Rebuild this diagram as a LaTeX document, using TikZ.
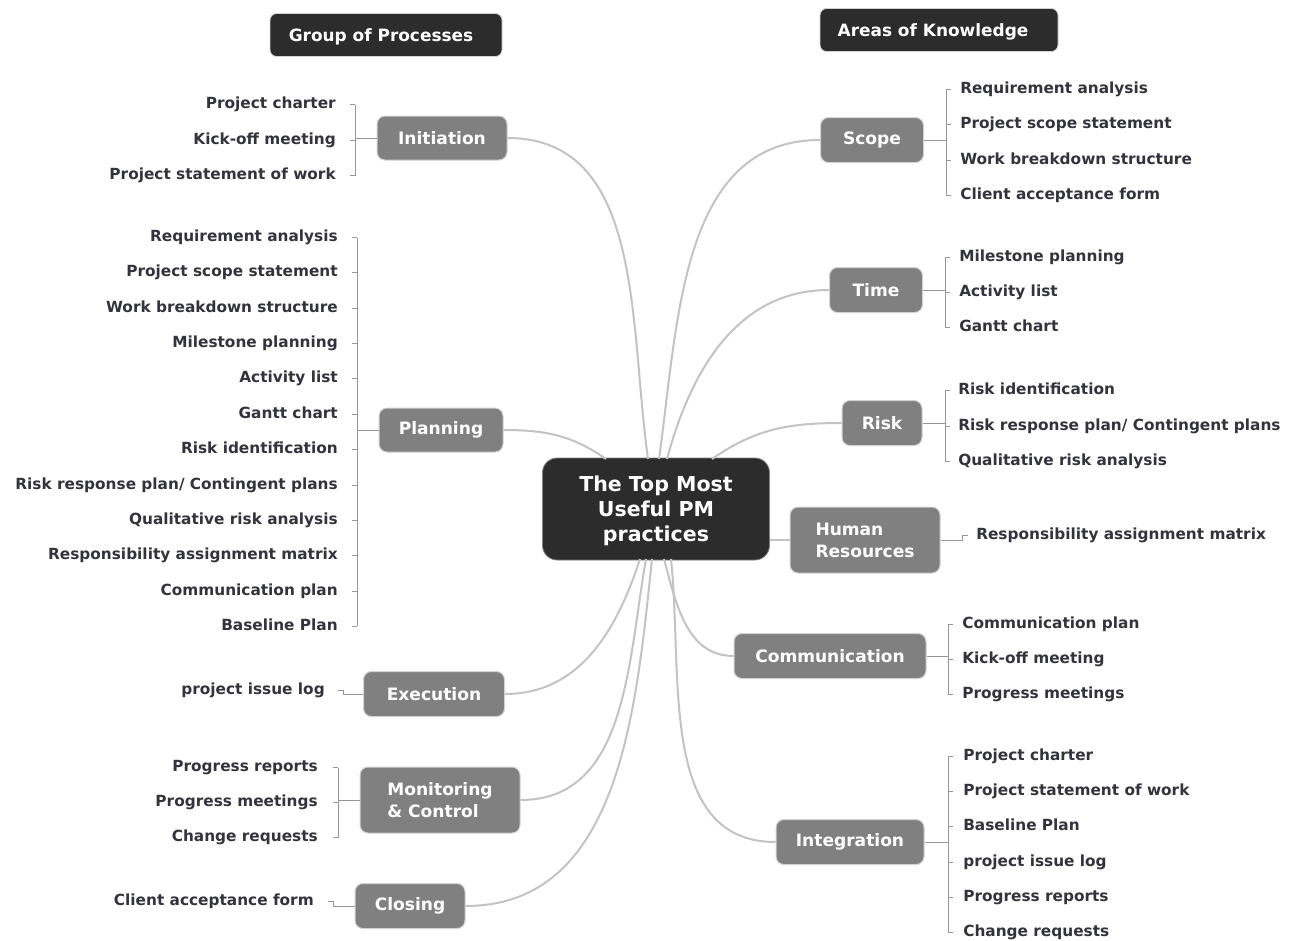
\documentclass[tikz,border=0pt]{standalone}
\usepackage{fontspec}
\setmainfont{DejaVu Sans}
\usetikzlibrary{calc}
\definecolor{txt}{RGB}{51,51,62}
\definecolor{dark}{RGB}{44,44,44}
\definecolor{gbox}{RGB}{128,128,128}
\definecolor{gedge}{RGB}{210,210,210}
\definecolor{gline}{RGB}{195,195,195}
\definecolor{bline}{RGB}{150,150,150}
\begin{document}
\begin{tikzpicture}[x=0.75pt,y=-0.75pt,
  leafL/.style={anchor=east, inner sep=0pt, text height=8.5pt, text depth=2.5pt,
    font=\fontsize{11.5}{13}\selectfont\bfseries, text=txt},
  leafR/.style={leafL, anchor=west},
  sz/.style 2 args={minimum width={#1*0.75pt}, minimum height={#2*0.75pt}},
  branch/.style={draw=gedge, line width=0.75pt, fill=gbox, rounded corners=6pt,
    text=white, font=\fontsize{12.8}{16.5}\selectfont\bfseries, inner sep=0pt},
  hubbox/.style={draw=gray, line width=0.6pt, fill=dark, rounded corners=11pt, inner sep=0pt},
  hubtext/.style={text=white, font=\fontsize{15.4}{18.75}\selectfont\bfseries, inner sep=0pt, align=center},
  titlebox/.style={draw=gedge, line width=0.6pt, fill=dark, rounded corners=5pt},
  titletext/.style={text=white, font=\fontsize{12.7}{15}\selectfont\bfseries, inner sep=0pt},
  curve/.style={draw=gline, line width=1.5pt},
  brk/.style={draw=bline, line width=0.75pt}
]
\fill[white] (0,0) rectangle (1293,940);
\useasboundingbox (0,0) rectangle (1293,940);

% titles
\node[titlebox, sz={232}{43}] (tg) at (386,35) {};
\node[titletext] (tgt) at (381,37) {Group of Processes};
\node[titlebox, sz={238}{43}] (ta) at (939,30) {};
\node[titletext] (tat) at (933,32) {Areas of Knowledge};

% hub
\node[hubbox, sz={227}{102}] (hub) at (656,509) {};
\node[hubtext] (hubt) at (656,511) {The Top Most\\Useful PM\\practices};

% branches left
\node[branch, sz={130}{44}] (ini) at (442,138) {Initiation};
\node[branch, sz={124}{44}] (pla) at (441,430) {Planning};
\node[branch, sz={141}{45}] (exe) at (434,694) {Execution};
\node[branch, sz={160}{66}, align=left] (mon) at (440,800) {Monitoring\\\& Control};
\node[branch, sz={110}{45}] (clo) at (410,906) {Closing};
% branches right
\node[branch, sz={103}{45}] (sco) at (872,140) {Scope};
\node[branch, sz={93}{45}] (tim) at (876,290) {Time};
\node[branch, sz={80}{45}] (ris) at (882,423) {Risk};
\node[branch, sz={150}{66}, align=left] (hr) at (865,540) {Human\\Resources};
\node[branch, sz={192}{45}] (com) at (830,656) {Communication};
\node[branch, sz={148}{45}] (int) at (850,842) {Integration};

% hub attachment points
\coordinate (hIni) at (648,459);
\coordinate (hPla) at (606,459);
\coordinate (hSco) at (659,459);
\coordinate (hTim) at (667,459);
\coordinate (hRis) at (712,459);
\coordinate (hExe) at (640,559);
\coordinate (hMon) at (646,559);
\coordinate (hClo) at (652,559);
\coordinate (hCom) at (664,559);
\coordinate (hInt) at (671,559);

% main connectors
\draw[curve] (ini.east) to[out=0,in=98] (hIni);
\draw[curve] (pla.east) to[out=0,in=145] (hPla);
\draw[curve] (sco.west) to[out=180,in=82] (hSco);
\draw[curve] (tim.west) to[out=180,in=75] (hTim);
\draw[curve] (ris.west) to[out=180,in=35] (hRis);
\draw[curve] (exe.east) to[out=0,in=-108] (hExe);
\draw[curve] (mon.east) to[out=0,in=-100] (hMon);
\draw[curve] (clo.east) to[out=0,in=-96] (hClo);
\draw[curve] (com.west) to[out=180,in=-75] (hCom);
\draw[curve] (int.west) to[out=180,in=-84] (hInt);
\draw[curve] (hr.west) -- (hr.west -| hub.east);

% ---- Initiation leaves
\foreach \t [count=\i] in {Project charter, Kick-off meeting, Project statement of work}
  \node[leafL] (in\i) at (336,{104.5+35.5*(\i-1)}) {\t};
\coordinate (inb) at ($(in1.east)+(19,0)$);
\draw[brk] (inb) -- (inb |- in3.east);
\foreach \i in {1,2,3} \draw[brk] (inb |- in\i.east) -- ++(-5,0);
\draw[brk] (ini.west) -- (ini.west -| inb);

% ---- Planning leaves
\foreach \t [count=\i] in {Requirement analysis, Project scope statement, Work breakdown structure,
  Milestone planning, Activity list, Gantt chart, Risk identification,
  Risk response plan/ Contingent plans, Qualitative risk analysis,
  Responsibility assignment matrix, Communication plan, Baseline Plan}
  \node[leafL] (pl\i) at (338,{237.5+35.36*(\i-1)}) {\t};
\coordinate (plb) at ($(pl1.east)+(19,0)$);
\draw[brk] (plb) -- (plb |- pl12.east);
\foreach \i in {1,...,12} \draw[brk] (plb |- pl\i.east) -- ++(-5,0);
\draw[brk] (pla.west) -- (pla.west -| plb);

% ---- Execution leaf
\node[leafL] (ex1) at (325,690.5) {project issue log};
\draw[brk] ($(ex1.east)+(13,0)$) -- ++(5,0) |- (exe.west);

% ---- Monitoring leaves
\foreach \t [count=\i] in {Progress reports, Progress meetings, Change requests}
  \node[leafL] (mo\i) at (318,{767.5+35*(\i-1)}) {\t};
\coordinate (mob) at ($(mo1.east)+(20,0)$);
\draw[brk] (mob) -- (mob |- mo3.east);
\foreach \i in {1,2,3} \draw[brk] (mob |- mo\i.east) -- ++(-5,0);
\draw[brk] (mon.west) -- (mon.west -| mob);

% ---- Closing leaf
\node[leafL] (cl1) at (314,901.5) {Client acceptance form};
\draw[brk] ($(cl1.east)+(14,0)$) -- ++(5,0) |- (clo.west);

% ---- Scope leaves
\foreach \t [count=\i] in {Requirement analysis, Project scope statement, Work breakdown structure, Client acceptance form}
  \node[leafR] (sc\i) at (960,{89.5+35.3*(\i-1)}) {\t};
\coordinate (scb) at ($(sc1.west)+(-14,0)$);
\draw[brk] (scb) -- (scb |- sc4.west);
\foreach \i in {1,...,4} \draw[brk] (scb |- sc\i.west) -- ++(5,0);
\draw[brk] (sco.east) -- (sco.east -| scb);

% ---- Time leaves
\foreach \t [count=\i] in {Milestone planning, Activity list, Gantt chart}
  \node[leafR] (ti\i) at (959,{257.5+35*(\i-1)}) {\t};
\coordinate (tib) at ($(ti1.west)+(-14,0)$);
\draw[brk] (tib) -- (tib |- ti3.west);
\foreach \i in {1,2,3} \draw[brk] (tib |- ti\i.west) -- ++(5,0);
\draw[brk] (tim.east) -- (tim.east -| tib);

% ---- Risk leaves
\foreach \t [count=\i] in {Risk identification, Risk response plan/ Contingent plans, Qualitative risk analysis}
  \node[leafR] (ri\i) at (958,{390.5+35.5*(\i-1)}) {\t};
\coordinate (rib) at ($(ri1.west)+(-13,0)$);
\draw[brk] (rib) -- (rib |- ri3.west);
\foreach \i in {1,2,3} \draw[brk] (rib |- ri\i.west) -- ++(5,0);
\draw[brk] (ris.east) -- (ris.east -| rib);

% ---- Human Resources leaf
\node[leafR] (hr1) at (976,535.5) {Responsibility assignment matrix};
\draw[brk] (hr.east) -| ($(hr1.west)+(-14,0)$) -- ++(6,0);

% ---- Communication leaves
\foreach \t [count=\i] in {Communication plan, Kick-off meeting, Progress meetings}
  \node[leafR] (co\i) at (962,{624.5+35*(\i-1)}) {\t};
\coordinate (cob) at ($(co1.west)+(-14,0)$);
\draw[brk] (cob) -- (cob |- co3.west);
\foreach \i in {1,2,3} \draw[brk] (cob |- co\i.west) -- ++(5,0);
\draw[brk] (com.east) -- (com.east -| cob);

% ---- Integration leaves
\foreach \t [count=\i] in {Project charter, Project statement of work, Baseline Plan, project issue log, Progress reports, Change requests}
  \node[leafR] (ig\i) at (963,{756.5+35.2*(\i-1)}) {\t};
\coordinate (igb) at ($(ig1.west)+(-15,0)$);
\draw[brk] (igb) -- (igb |- ig6.west);
\foreach \i in {1,...,6} \draw[brk] (igb |- ig\i.west) -- ++(5,0);
\draw[brk] (int.east) -- (int.east -| igb);
\end{tikzpicture}
\end{document}
